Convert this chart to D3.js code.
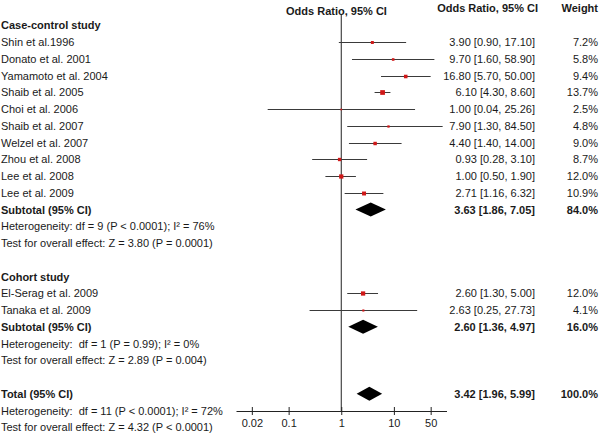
<!DOCTYPE html>
<html><head><meta charset="utf-8">
<script src="https://cdn.jsdelivr.net/npm/d3@7"></script>
<style>
body{margin:0;background:#fff}
svg text{font-family:"Liberation Sans",Arial,sans-serif;font-size:11px;fill:#1a1a1a;white-space:pre}
</style>
</head><body><svg id="c" width="600" height="438"></svg>
<script>
// ---- data ----
const caseStudies = ["Shin et al.1996","Donato et al. 2001","Yamamoto et al. 2004","Shaib et al. 2005","Choi et al. 2006","Shaib et al. 2007","Welzel et al. 2007","Zhou et al. 2008","Lee et al. 2008","Lee et al. 2009"];
const caseOR     = [3.90, 9.70, 16.80, 6.10, 1.00, 7.90, 4.40, 0.93, 1.00, 2.71];
const caseLo     = [0.90, 1.60, 5.70, 4.30, 0.04, 1.30, 1.40, 0.28, 0.50, 1.16];
const caseHi     = [17.10, 58.90, 50.00, 8.60, 25.26, 84.50, 14.00, 3.10, 1.90, 6.32];
const caseWeight = [7.2, 5.8, 9.4, 13.7, 2.5, 4.8, 9.0, 8.7, 12.0, 10.9];
const caseSubtotal = [3.63, 1.86, 7.05, 84.0];
const caseHet  = "Heterogeneity: df = 9 (P < 0.0001); I\u00B2 = 76%";
const caseTest = "Test for overall effect: Z = 3.80 (P = 0.0001)";

const cohortStudies = ["El-Serag et al. 2009","Tanaka et al. 2009"];
const cohortOR     = [2.60, 2.63];
const cohortLo     = [1.30, 0.25];
const cohortHi     = [5.00, 27.73];
const cohortWeight = [12.0, 4.1];
const cohortSubtotal = [2.60, 1.36, 4.97, 16.0];
const cohortHet  = "Heterogeneity:  df = 1 (P = 0.99); I\u00B2 = 0%";
const cohortTest = "Test for overall effect: Z = 2.89 (P = 0.004)";

const totalValues = [3.42, 1.96, 5.99, 100.0];
const totalHet  = "Heterogeneity:  df = 11 (P < 0.0001); I\u00B2 = 72%";
const totalTest = "Test for overall effect: Z = 4.32 (P < 0.0001)";

const axisDomain = [0.01, 100];
const tickValues = [0.02, 0.1, 1, 10, 50];
const tickLabels = ["0.02", "0.1", "1", "10", "50"];
const headers = ["Odds Ratio, 95% CI", "Odds Ratio, 95% CI", "Weight"];

// ---- build rows ----
const rows = [];
rows.push({label: "Case-control study", bold: true});
caseStudies.forEach((s, i) => rows.push({label: s, type: "study", or: caseOR[i], lo: caseLo[i], hi: caseHi[i], w: caseWeight[i]}));
rows.push({label: "Subtotal (95% CI)", bold: true, type: "diamond", or: caseSubtotal[0], lo: caseSubtotal[1], hi: caseSubtotal[2], w: caseSubtotal[3]});
rows.push({label: caseHet});
rows.push({label: caseTest});
rows.push({label: ""});
rows.push({label: "Cohort study", bold: true});
cohortStudies.forEach((s, i) => rows.push({label: s, type: "study", or: cohortOR[i], lo: cohortLo[i], hi: cohortHi[i], w: cohortWeight[i]}));
rows.push({label: "Subtotal (95% CI)", bold: true, type: "diamond", or: cohortSubtotal[0], lo: cohortSubtotal[1], hi: cohortSubtotal[2], w: cohortSubtotal[3]});
rows.push({label: cohortHet});
rows.push({label: cohortTest});
rows.push({label: ""});
rows.push({label: "Total (95% CI)", bold: true, type: "diamond", or: totalValues[0], lo: totalValues[1], hi: totalValues[2], w: totalValues[3]});
rows.push({label: totalHet});
rows.push({label: totalTest});
rows.forEach((r, i) => r.i = i);

// ---- scales ----
const svg = d3.select("#c");
const x = d3.scaleLog().domain(axisDomain).range([236, 446.5]);
const y = d3.scaleLinear().domain([0, rows.length - 1]).range([25.3, 427.3]);
const sq = d3.scaleLinear().domain([0, 14]).range([1, 4.8]);
const f2 = d3.format(".2f"), f1 = d3.format(".1f");
const axisY = 411;

// headers
svg.append("text").attr("x", 336.5).attr("y", 15).attr("text-anchor", "middle").attr("font-weight", "bold").text(headers[0]);
svg.append("text").attr("x", 538).attr("y", 11.5).attr("text-anchor", "end").attr("font-weight", "bold").text(headers[1]);
svg.append("text").attr("x", 598).attr("y", 11.5).attr("text-anchor", "end").attr("font-weight", "bold").text(headers[2]);

// null line
svg.append("line").attr("x1", x(1)).attr("x2", x(1)).attr("y1", 14).attr("y2", axisY)
  .attr("stroke", "#222").attr("stroke-width", 1);

// labels
svg.selectAll("text.lab").data(rows).join("text").attr("class", "lab")
  .attr("x", 1).attr("y", d => y(d.i) + 4)
  .attr("font-weight", d => d.bold ? "bold" : null)
  .text(d => d.label);

// CI text and weights
const valRows = rows.filter(d => d.type);
svg.selectAll("text.ci").data(valRows).join("text").attr("class", "ci")
  .attr("x", 535).attr("y", d => y(d.i) + 4).attr("text-anchor", "end")
  .attr("font-weight", d => d.type === "diamond" ? "bold" : null)
  .text(d => `${f2(d.or)} [${f2(d.lo)}, ${f2(d.hi)}]`);
svg.selectAll("text.wt").data(valRows).join("text").attr("class", "wt")
  .attr("x", 598).attr("y", d => y(d.i) + 4).attr("text-anchor", "end")
  .attr("font-weight", d => d.type === "diamond" ? "bold" : null)
  .text(d => `${f1(d.w)}%`);

// study CIs
const studies = rows.filter(d => d.type === "study");
svg.selectAll("line.ci").data(studies).join("line").attr("class", "ci")
  .attr("x1", d => x(d.lo)).attr("x2", d => x(d.hi))
  .attr("y1", d => Math.round(y(d.i)) + 0.5).attr("y2", d => Math.round(y(d.i)) + 0.5)
  .attr("stroke", "#3a3a3a").attr("stroke-width", 1);
svg.selectAll("rect.pt").data(studies).join("rect").attr("class", "pt")
  .attr("x", d => x(d.or) - sq(d.w) / 2).attr("y", d => Math.round(y(d.i)) + 0.5 - sq(d.w) / 2)
  .attr("width", d => sq(d.w)).attr("height", d => sq(d.w))
  .attr("fill", "#d01818");

// diamonds
const dia = rows.filter(d => d.type === "diamond");
svg.selectAll("path.dia").data(dia).join("path").attr("class", "dia")
  .attr("d", d => {
    const c = y(d.i);
    return `M${x(d.lo)},${c}L${x(d.or)},${c - 7}L${x(d.hi)},${c}L${x(d.or)},${c + 7}Z`;
  })
  .attr("fill", "#000");

// axis
const ax = d3.axisBottom(x).tickValues(tickValues).tickFormat((d, i) => tickLabels[i])
  .tickSizeInner(4).tickSizeOuter(0).tickPadding(4);
const g = svg.append("g").attr("transform", `translate(0,${axisY})`).call(ax);
g.select(".domain").attr("stroke", "#222");
g.selectAll(".tick line").attr("y1", -4).attr("y2", 4).attr("stroke", "#222");
g.selectAll(".tick text").attr("font-family", null).attr("font-size", null).style("font-size", "11px");
</script>
</body></html>
